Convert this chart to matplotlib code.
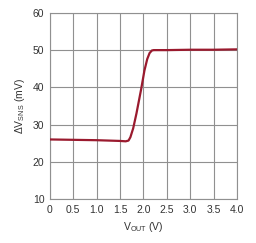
import matplotlib
matplotlib.use("Agg")
import matplotlib.pyplot as plt

plt.rcParams['font.family'] = ['Liberation Sans', 'DejaVu Sans']

# V_OUT (V) and delta V_SNS (mV)
vout = [0, 0.5, 1.0, 1.5, 1.62, 1.68, 1.72, 1.78, 1.85, 1.95, 2.02, 2.08, 2.13, 2.18, 2.22, 2.5, 3.0, 3.5, 4.0]
vsns = [26.0, 25.9, 25.8, 25.6, 25.5, 25.7, 26.6, 29.0, 33.0, 39.5, 44.5, 47.6, 49.2, 49.9, 50.0, 50.0, 50.1, 50.1, 50.2]

xticks = [0, 0.5, 1.0, 1.5, 2.0, 2.5, 3.0, 3.5, 4.0]
xticklabels = ['0', '0.5', '1.0', '1.5', '2.0', '2.5', '3.0', '3.5', '4.0']
yticks = [10, 20, 30, 40, 50, 60]

fig = plt.figure(figsize=(2.56, 2.43), dpi=100)
ax = fig.add_axes([0.195, 0.181, 0.731, 0.766])

ax.plot(vout, vsns, color='#9a1a2e', linewidth=1.6, solid_capstyle='round', zorder=3)

ax.set_xlim(0, 4.0)
ax.set_ylim(10, 60)
ax.set_xticks(xticks)
ax.set_xticklabels(xticklabels)
ax.set_yticks(yticks)
ax.grid(True, color='#909090', linewidth=0.8)
ax.tick_params(length=0, labelsize=7.5, colors='#333333', pad=4)
for s in ax.spines.values():
    s.set_color('#909090')
    s.set_linewidth(0.8)

ax.set_xlabel('V$_{\\mathregular{OUT}}$ (V)', fontsize=7.5, color='#333333', labelpad=4)
ax.set_ylabel('ΔV$_{\\mathregular{SNS}}$ (mV)', fontsize=7.5, color='#333333', labelpad=4)

fig.savefig('out.png', dpi=100)
